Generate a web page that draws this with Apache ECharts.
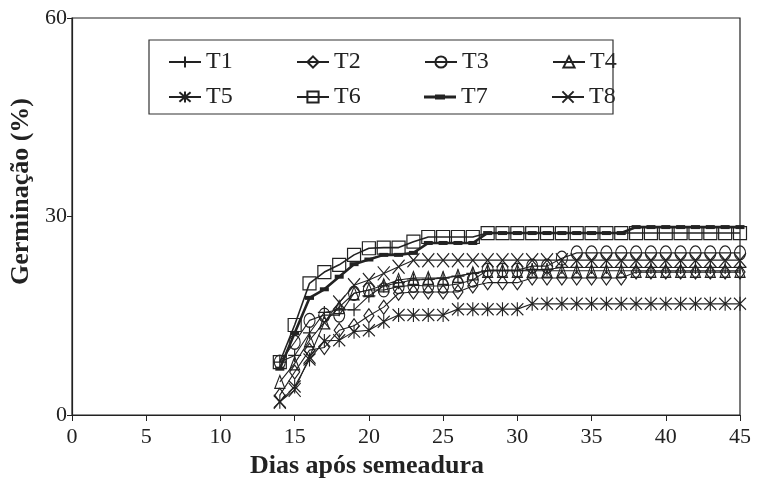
<!DOCTYPE html>
<html>
<head>
<meta charset="utf-8">
<script src="https://cdn.jsdelivr.net/npm/echarts@6/dist/echarts.min.js"></script>
<style>html,body{margin:0;padding:0;background:#fff}#c{width:771px;height:486px}</style>
</head>
<body>
<div id="c"></div>
<script>
var days = [14,15,16,17,18,19,20,21,22,23,24,25,26,27,28,29,30,31,32,33,34,35,36,37,38,39,40,41,42,43,44,45];
var seriesNames = ['T1','T2','T3','T4','T5','T6','T7','T8'];
var t1 = [8,9,12.4,15.5,15.9,15.9,18,19.5,20,20.4,20.5,20.7,21,21.4,21.8,21.8,21.8,22,22,22.3,22.3,22.3,22.3,22.3,22.3,22.3,22.3,22.3,22.3,22.3,22.3,22.3];
var t2 = [3,6.5,9.8,10.2,12.8,13.5,15,16.3,18.4,18.6,18.6,18.6,18.6,19.5,20,20,20,20.7,20.7,20.7,20.7,20.7,20.7,20.7,21.6,21.6,21.6,21.6,21.6,21.6,21.6,21.6];
var t3 = [8,11,14.3,15.1,15.1,18.4,18.9,18.9,19.4,19.6,19.5,19.5,19.8,20.4,21.9,21.9,21.9,22.5,22.5,23.7,24.5,24.5,24.5,24.5,24.5,24.5,24.5,24.5,24.5,24.5,24.5,24.5];
var t4 = [5,7.8,11.3,14,16.3,18.4,18.9,19.6,20.4,20.7,20.7,20.7,21,21.4,21.8,21.8,21.8,21.8,21.8,21.8,21.8,21.8,21.8,21.8,21.8,21.8,21.8,21.8,21.8,21.8,21.8,21.8];
var t5 = [2,4.3,8.4,11.2,11.3,12.6,12.8,14.1,15.1,15.1,15.1,15.1,16,16,16,16,16,16.8,16.8,16.8,16.8,16.8,16.8,16.8,16.8,16.8,16.8,16.8,16.8,16.8,16.8,16.8];
var t6 = [8,13.6,19.9,21.6,22.7,24.2,25.2,25.3,25.3,26.2,26.9,26.9,26.9,26.9,27.5,27.5,27.5,27.5,27.5,27.5,27.5,27.5,27.5,27.5,27.5,27.5,27.5,27.5,27.5,27.5,27.5,27.5];
var t7 = [7,12.4,17.7,19,20.9,22.8,23.5,24.2,24.2,24.5,26,26,26,26,27.5,27.5,27.5,27.5,27.5,27.5,27.5,27.5,27.5,27.5,28.4,28.4,28.4,28.4,28.4,28.4,28.4,28.4];
var t8 = [2,3.8,8.8,14,17,19.6,20.4,21.4,22.4,23.4,23.4,23.4,23.4,23.4,23.4,23.4,23.4,23.4,23.4,23.4,23.4,23.4,23.4,23.4,23.4,23.4,23.4,23.4,23.4,23.4,23.4,23.4];
var xTicks = [0,5,10,15,20,25,30,35,40,45];
var yTicks = [0,30,60];

var values = [t1,t2,t3,t4,t5,t6,t7,t8];
var ink = '#222';
var font = 'Liberation Serif';
var symbols = [
  {s:'path://M6,0L6,12M0,6L12,6', size:[13,13]},
  {s:'path://M5,0L10,7L5,14L0,7Z', size:[10,14]},
  {s:'path://M5,0A5,7,0,1,1,5,14A5,7,0,1,1,5,0Z', size:[11,14]},
  {s:'path://M5,0L10,13L0,13Z', size:[10,13]},
  {s:'path://M6,0L6,14M0,1L12,13M0,13L12,1', size:[12,14]},
  {s:'path://M0,0L12,0L12,12L0,12Z', size:[13,13]},
  {s:'rect', size:[9,4]},
  {s:'path://M0,0L12,14M0,14L12,0', size:[12,14]}
];

var series = seriesNames.map(function(name, i){
  var filled = (i === 6);
  return {
    name: name,
    type: 'line',
    data: days.map(function(d, k){ return [d, values[i][k]]; }),
    symbol: symbols[i].s,
    symbolSize: symbols[i].size,
    showAllSymbol: true,
    lineStyle: {color: ink, width: (i === 6 ? 2.6 : (i === 5 ? 1.6 : 1.1))},
    itemStyle: {color: filled ? ink : 'rgba(255,255,255,0)', borderColor: ink, borderWidth: filled ? 0 : 1.2},
    emphasis: {disabled: true},
    animation: false,
    z: 2 + i
  };
});

var legendText = {fontFamily: font, fontSize: 24, color: ink, width: 60, lineHeight: 24};
var t7Icon = 'path://M0,0L0.01,0L0.01,0Z M0,14L0.01,14L0.01,14Z M0,5.6L32,5.6L32,8.4L0,8.4Z M11,4.5L21,4.5L21,9.5L11,9.5Z';
function legendData(names){
  return names.map(function(n){ return n === 'T7' ? {name: n, icon: t7Icon} : {name: n}; });
}
var chart = echarts.init(document.getElementById('c'), null, {renderer: 'canvas'});
chart.setOption({
  backgroundColor: '#fff',
  animation: false,
  grid: {left: 72, right: 31, top: 18, bottom: 71, show: true, borderColor: ink, borderWidth: 1.2, backgroundColor: 'transparent'},
  xAxis: {
    type: 'value', min: 0, max: 45, interval: 5,
    name: 'Dias após semeadura', nameLocation: 'middle', nameGap: 37,
    nameTextStyle: {fontFamily: font, fontSize: 26, fontWeight: 'bold', color: ink, padding: [0, 78, 0, 0]},
    axisLine: {show: true, lineStyle: {color: ink, width: 1.2}},
    axisTick: {show: true, inside: false, length: 6, lineStyle: {color: ink}},
    axisLabel: {fontFamily: font, fontSize: 22, color: ink, margin: 11, customValues: xTicks},
    splitLine: {show: false}
  },
  yAxis: {
    type: 'value', min: 0, max: 60, interval: 30,
    name: 'Germinação (%)', nameLocation: 'middle', nameGap: 34, nameRotate: 90,
    nameTextStyle: {fontFamily: font, fontSize: 26, fontWeight: 'bold', color: ink, padding: [0, 0, 0, 50]},
    axisLine: {show: true, lineStyle: {color: ink, width: 1.2}},
    axisTick: {show: true, inside: false, length: 5, lineStyle: {color: ink}},
    axisLabel: {fontFamily: font, fontSize: 22, color: ink, margin: 5},
    splitLine: {show: false}
  },
  legend: [
    {data: legendData(seriesNames.slice(0,4)), left: 163, top: 45, orient: 'horizontal', itemWidth: 32, itemHeight: 14, itemGap: 30, textStyle: legendText, selectedMode: false},
    {data: legendData(seriesNames.slice(4,8)), left: 163, top: 80, orient: 'horizontal', itemWidth: 32, itemHeight: 14, itemGap: 30, textStyle: legendText, selectedMode: false}
  ],
  graphic: [{type: 'rect', shape: {x: 149, y: 40, width: 464, height: 74}, style: {fill: 'none', stroke: '#333', lineWidth: 1.2}, z: 100}],
  series: series
});
</script>
</body>
</html>
